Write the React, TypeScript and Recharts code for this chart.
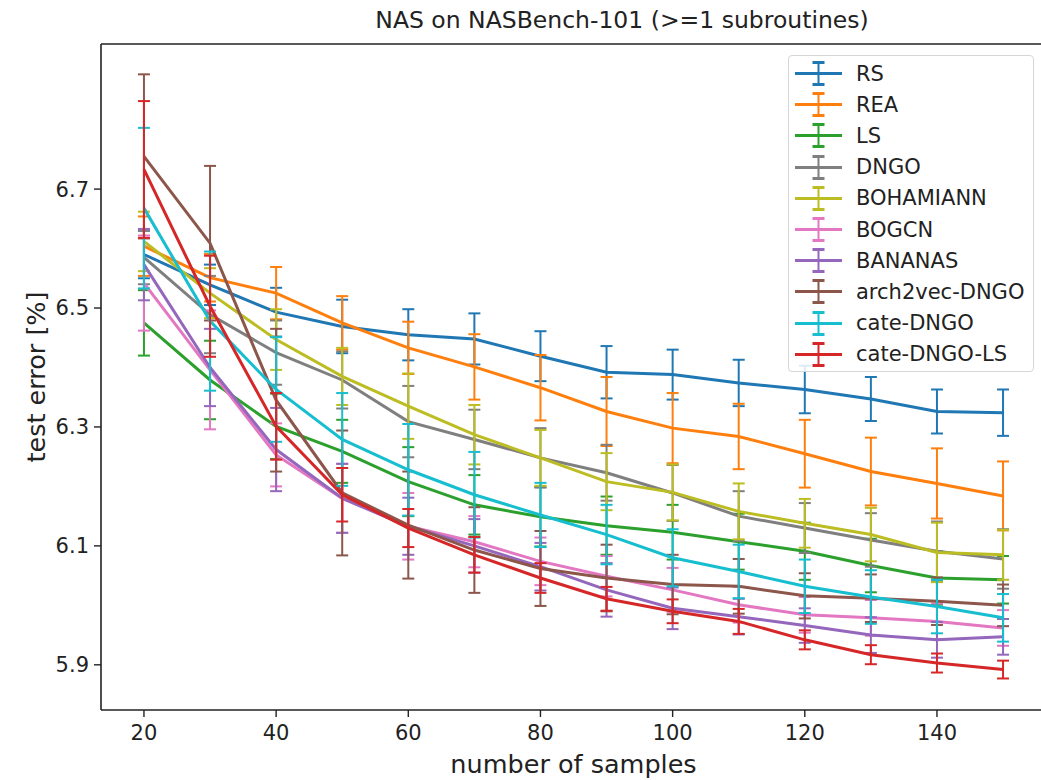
import { LineChart, Line, XAxis, YAxis, ErrorBar, ReferenceLine } from "recharts";

const samples = [20, 30, 40, 50, 60, 70, 80, 90, 100, 110, 120, 130, 140, 150];

const rsMean = [6.59, 6.539, 6.493, 6.469, 6.455, 6.448, 6.419, 6.392, 6.388, 6.374, 6.363, 6.347, 6.326, 6.324];
const rsErr = [0.04, 0.034, 0.041, 0.045, 0.043, 0.043, 0.042, 0.044, 0.042, 0.039, 0.04, 0.037, 0.037, 0.039];

const reaMean = [6.604, 6.551, 6.525, 6.475, 6.433, 6.401, 6.366, 6.326, 6.298, 6.284, 6.255, 6.225, 6.205, 6.184];
const reaErr = [0.05, 0.04, 0.044, 0.045, 0.044, 0.055, 0.055, 0.058, 0.059, 0.055, 0.057, 0.057, 0.059, 0.058];

const lsMean = [6.475, 6.379, 6.301, 6.259, 6.208, 6.169, 6.149, 6.134, 6.123, 6.107, 6.091, 6.067, 6.046, 6.043];
const lsErr = [0.055, 0.066, 0.055, 0.053, 0.058, 0.05, 0.05, 0.049, 0.046, 0.047, 0.048, 0.045, 0.045, 0.04];

const dngoMean = [6.585, 6.489, 6.425, 6.379, 6.309, 6.279, 6.248, 6.223, 6.189, 6.15, 6.13, 6.11, 6.091, 6.078];
const dngoErr = [0.045, 0.065, 0.054, 0.048, 0.06, 0.05, 0.05, 0.047, 0.047, 0.042, 0.042, 0.045, 0.05, 0.05];

const bohMean = [6.612, 6.525, 6.447, 6.385, 6.335, 6.287, 6.248, 6.208, 6.19, 6.158, 6.138, 6.119, 6.089, 6.085];
const bohErr = [0.05, 0.042, 0.051, 0.048, 0.055, 0.05, 0.047, 0.048, 0.047, 0.047, 0.041, 0.045, 0.05, 0.042];

const bogcnMean = [6.542, 6.396, 6.253, 6.18, 6.133, 6.107, 6.074, 6.049, 6.026, 6.001, 5.984, 5.979, 5.973, 5.962];
const bogcnErr = [0.08, 0.1, 0.053, 0.058, 0.056, 0.043, 0.04, 0.034, 0.037, 0.03, 0.03, 0.03, 0.03, 0.03];

const bananasMean = [6.573, 6.4, 6.262, 6.18, 6.133, 6.1, 6.065, 6.026, 5.995, 5.981, 5.966, 5.95, 5.942, 5.947];
const bananasErr = [0.06, 0.065, 0.07, 0.058, 0.048, 0.045, 0.04, 0.045, 0.035, 0.03, 0.029, 0.03, 0.03, 0.03];

const a2vMean = [6.755, 6.609, 6.345, 6.189, 6.135, 6.093, 6.062, 6.046, 6.035, 6.032, 6.016, 6.012, 6.007, 6.0];
const a2vErr = [0.138, 0.13, 0.12, 0.105, 0.09, 0.072, 0.063, 0.056, 0.05, 0.046, 0.038, 0.04, 0.04, 0.035];

const cateMean = [6.668, 6.478, 6.363, 6.279, 6.228, 6.186, 6.152, 6.119, 6.08, 6.057, 6.032, 6.014, 5.998, 5.979];
const cateErr = [0.135, 0.117, 0.088, 0.078, 0.077, 0.072, 0.054, 0.05, 0.048, 0.045, 0.045, 0.045, 0.045, 0.04];

const cateLsMean = [6.733, 6.503, 6.301, 6.186, 6.13, 6.085, 6.046, 6.011, 5.99, 5.973, 5.942, 5.917, 5.903, 5.892];
const cateLsErr = [0.115, 0.085, 0.056, 0.045, 0.032, 0.03, 0.025, 0.02, 0.02, 0.021, 0.016, 0.016, 0.016, 0.015];

const xTicks = [20, 40, 60, 80, 100, 120, 140];
const yTicks = [5.9, 6.1, 6.3, 6.5, 6.7];

const SERIES = [
  { key: "rs", name: "RS", color: "#1f77b4", mean: rsMean, err: rsErr },
  { key: "rea", name: "REA", color: "#ff7f0e", mean: reaMean, err: reaErr },
  { key: "ls", name: "LS", color: "#2ca02c", mean: lsMean, err: lsErr },
  { key: "dngo", name: "DNGO", color: "#7f7f7f", mean: dngoMean, err: dngoErr },
  { key: "boh", name: "BOHAMIANN", color: "#bcbd22", mean: bohMean, err: bohErr },
  { key: "bogcn", name: "BOGCN", color: "#e377c2", mean: bogcnMean, err: bogcnErr },
  { key: "bananas", name: "BANANAS", color: "#9467bd", mean: bananasMean, err: bananasErr },
  { key: "a2v", name: "arch2vec-DNGO", color: "#8c564b", mean: a2vMean, err: a2vErr },
  { key: "cate", name: "cate-DNGO", color: "#17becf", mean: cateMean, err: cateErr },
  { key: "cateLs", name: "cate-DNGO-LS", color: "#d62728", mean: cateLsMean, err: cateLsErr },
];

const data = samples.map((n, i) => {
  const row: Record<string, number> = { n };
  SERIES.forEach((s) => {
    row[s.key] = s.mean[i];
    row[s.key + "Err"] = s.err[i];
  });
  return row;
});

const FONT = "'DejaVu Sans', sans-serif";
const INK = "#222";

function LegendBox() {
  return (
    <div
      style={{
        position: "absolute",
        left: 788,
        top: 55,
        width: 246,
        height: 317,
        border: "1px solid #d6d6d6",
        borderRadius: 4,
        background: "rgba(255,255,255,0.85)",
        boxSizing: "border-box",
        paddingTop: 2,
      }}
    >
      {SERIES.map((s) => (
        <div key={s.key} style={{ display: "flex", alignItems: "center", height: 31.2 }}>
          <svg width={60} height={31} style={{ flex: "none", marginLeft: 5 }}>
            <line x1={1} x2={48} y1={15.5} y2={15.5} stroke={s.color} strokeWidth={3} />
            <line x1={24.5} x2={24.5} y1={4.5} y2={26.5} stroke={s.color} strokeWidth={2} />
            <line x1={18.5} x2={30.5} y1={4.5} y2={4.5} stroke={s.color} strokeWidth={3} />
            <line x1={18.5} x2={30.5} y1={26.5} y2={26.5} stroke={s.color} strokeWidth={3} />
          </svg>
          <span style={{ fontSize: 21, color: INK, marginLeft: 2, whiteSpace: "nowrap" }}>{s.name}</span>
        </div>
      ))}
    </div>
  );
}

export default function App() {
  return (
    <div
      style={{
        position: "absolute",
        left: 0,
        top: 0,
        width: 1041,
        height: 780,
        overflow: "hidden",
        background: "#fff",
        fontFamily: FONT,
      }}
    >
      <LineChart width={1060} height={780} data={data} margin={{ top: 44, right: 14, bottom: 0, left: 0 }}>
        <XAxis
          dataKey="n"
          type="number"
          domain={[13.5, 156.5]}
          ticks={xTicks}
          allowDataOverflow
          height={70}
          tickSize={7}
          tickMargin={8}
          axisLine={{ stroke: INK, strokeWidth: 1.6 }}
          tickLine={{ stroke: INK, strokeWidth: 1.4 }}
          tick={{ fill: INK, fontSize: 21, fontFamily: FONT }}
          label={{
            value: "number of samples",
            position: "insideBottom",
            offset: 7,
            fill: INK,
            fontSize: 25.5,
            fontFamily: FONT,
          }}
        />
        <YAxis
          type="number"
          domain={[5.824, 6.944]}
          ticks={yTicks}
          allowDataOverflow
          width={101}
          tickSize={7}
          tickMargin={5}
          tickFormatter={(v: number) => v.toFixed(1)}
          axisLine={{ stroke: INK, strokeWidth: 1.6 }}
          tickLine={{ stroke: INK, strokeWidth: 1.4 }}
          tick={{ fill: INK, fontSize: 21, fontFamily: FONT }}
          label={{
            content: () => (
              <text
                x={45}
                y={377}
                transform="rotate(-90 45 377)"
                textAnchor="middle"
                fill={INK}
                fontSize={25.5}
                fontFamily={FONT}
              >
                test error [%]
              </text>
            ),
          }}
        />
        <ReferenceLine y={6.944} stroke={INK} strokeWidth={1.6} />
        {SERIES.map((s) => (
          <Line
            key={s.key}
            dataKey={s.key}
            name={s.name}
            type="linear"
            stroke={s.color}
            strokeWidth={3}
            dot={false}
            activeDot={false}
            isAnimationActive={false}
          >
            <ErrorBar
              dataKey={s.key + "Err"}
              direction="y"
              width={6}
              stroke={s.color}
              strokeWidth={2}
              isAnimationActive={false}
            />
          </Line>
        ))}
      </LineChart>
      <div
        style={{
          position: "absolute",
          left: 0,
          width: 1244,
          top: 6,
          textAlign: "center",
          fontSize: 23.5,
          color: INK,
        }}
      >
        NAS on NASBench-101 (&gt;=1 subroutines)
      </div>
      <LegendBox />
    </div>
  );
}
